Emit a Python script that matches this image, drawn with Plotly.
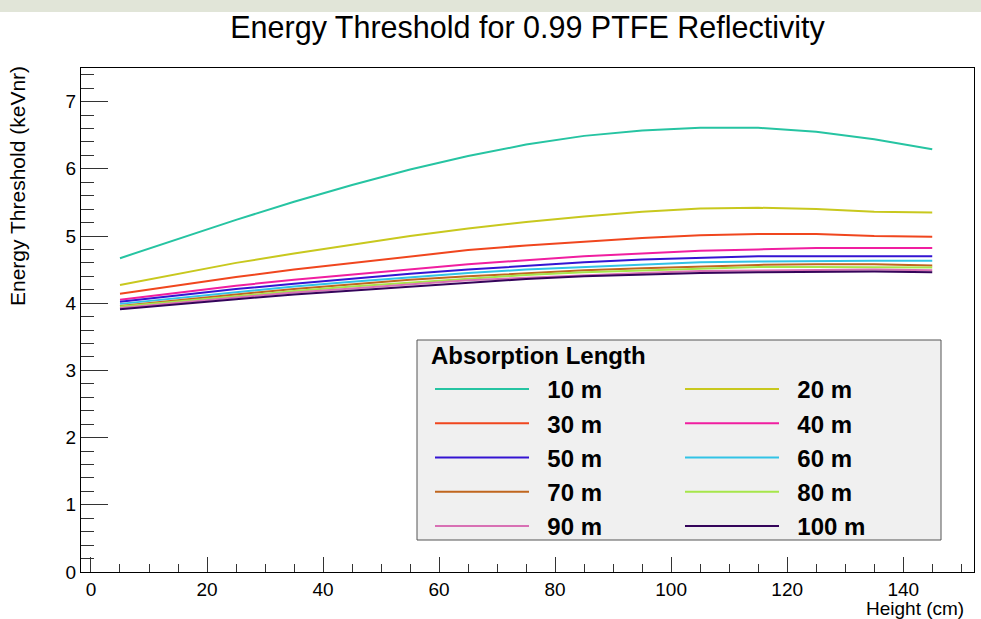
import plotly.graph_objects as go

heights = [5, 15, 25, 35, 45, 55, 65, 75, 85, 95, 105, 115, 125, 135, 145]

series_names = ["10 m", "20 m", "30 m", "40 m", "50 m", "60 m", "70 m", "80 m", "90 m", "100 m"]

thr_10m = [4.67, 4.96, 5.24, 5.51, 5.76, 5.99, 6.19, 6.36, 6.49, 6.57, 6.61, 6.61, 6.55, 6.44, 6.29]
thr_20m = [4.27, 4.44, 4.60, 4.74, 4.87, 5.00, 5.11, 5.21, 5.29, 5.36, 5.41, 5.42, 5.40, 5.36, 5.35]
thr_30m = [4.14, 4.27, 4.39, 4.50, 4.60, 4.70, 4.79, 4.86, 4.92, 4.97, 5.01, 5.03, 5.03, 5.00, 4.99]
thr_40m = [4.05, 4.16, 4.26, 4.35, 4.43, 4.51, 4.58, 4.64, 4.70, 4.74, 4.78, 4.80, 4.82, 4.82, 4.82]
thr_50m = [4.02, 4.12, 4.21, 4.29, 4.37, 4.44, 4.50, 4.56, 4.61, 4.65, 4.68, 4.70, 4.70, 4.70, 4.70]
thr_60m = [3.99, 4.08, 4.17, 4.25, 4.32, 4.39, 4.45, 4.50, 4.54, 4.58, 4.61, 4.62, 4.63, 4.63, 4.63]
thr_70m = [3.96, 4.05, 4.13, 4.21, 4.28, 4.35, 4.40, 4.45, 4.49, 4.52, 4.55, 4.57, 4.58, 4.58, 4.56]
thr_80m = [3.95, 4.03, 4.11, 4.18, 4.25, 4.31, 4.37, 4.42, 4.46, 4.49, 4.52, 4.54, 4.54, 4.54, 4.53]
thr_90m = [3.93, 4.01, 4.09, 4.16, 4.22, 4.28, 4.34, 4.38, 4.42, 4.45, 4.48, 4.49, 4.50, 4.50, 4.49]
thr_100m = [3.91, 3.99, 4.06, 4.13, 4.19, 4.25, 4.31, 4.36, 4.40, 4.43, 4.45, 4.46, 4.47, 4.47, 4.46]

all_series = [thr_10m, thr_20m, thr_30m, thr_40m, thr_50m,
              thr_60m, thr_70m, thr_80m, thr_90m, thr_100m]

colors = ["#26c4a2", "#c8c81e", "#f0461e", "#f01ea0", "#3414d2",
          "#32c3e6", "#c0661e", "#a6e64a", "#d870b4", "#34045a"]

W, H = 981, 619
L, R, T, B = 81, 7, 68, 47
PW, PH = W - L - R, H - T - B


def px_x(p):
    return (p - L) / PW


def px_y(p):
    return (H - B - p) / PH


FONT = "Liberation Sans, Arial, sans-serif"
NB = "\u00a0\u00a0"

fig = go.Figure()
for i, (name, ys) in enumerate(zip(series_names, all_series)):
    fig.add_trace(go.Scatter(
        x=heights, y=ys, mode="lines", name=NB + name,
        line=dict(color=colors[i], width=2),
        legend="legend" if i % 2 == 0 else "legend2",
    ))

axis_font = dict(family=FONT, size=19, color="#000")
leg_font = dict(family=FONT, size=24, color="#000", weight="bold")

fig.update_layout(
    width=W, height=H,
    margin=dict(l=L, r=R, t=T, b=B),
    paper_bgcolor="white", plot_bgcolor="white",
    title=dict(text="Energy Threshold for 0.99 PTFE Reflectivity",
               x=0.5, xref="paper", y=1 - 27 / H, yanchor="middle", xanchor="center",
               font=dict(family=FONT, size=30.5, color="#000")),
    xaxis=dict(range=[-1.72, 152.2], tickmode="linear", tick0=0, dtick=20,
               ticks="inside", ticklen=15, tickcolor="#333", tickwidth=1,
               minor=dict(ticks="inside", ticklen=8, dtick=5, tickcolor="#333"),
               showline=True, linecolor="#000", linewidth=1, mirror=True,
               showgrid=False, zeroline=False, tickfont=axis_font),
    yaxis=dict(range=[0, 7.5], tickmode="linear", tick0=0, dtick=1,
               ticks="inside", ticklen=27, tickcolor="#333", tickwidth=1,
               minor=dict(ticks="inside", ticklen=13, dtick=0.2, tickcolor="#333"),
               showline=True, linecolor="#000", linewidth=1, mirror=True,
               showgrid=False, zeroline=False, tickfont=axis_font),
    legend=dict(x=px_x(430), y=px_y(367), xanchor="left", yanchor="top",
                bgcolor="rgba(0,0,0,0)", borderwidth=0,
                font=leg_font, itemwidth=94, tracegroupgap=0),
    legend2=dict(x=px_x(680), y=px_y(367), xanchor="left", yanchor="top",
                 bgcolor="rgba(0,0,0,0)", borderwidth=0,
                 font=leg_font, itemwidth=94, tracegroupgap=0),
    showlegend=True,
    shapes=[
        dict(type="rect", xref="paper", yref="paper",
             x0=px_x(417), x1=px_x(941), y0=px_y(540), y1=px_y(340),
             fillcolor="#f0f0f0", line=dict(color="#555", width=1), layer="below"),
        dict(type="rect", xref="paper", yref="paper",
             x0=px_x(0), x1=px_x(W), y0=px_y(12), y1=px_y(0),
             fillcolor="#e1e5d8", line=dict(width=0), layer="below"),
    ],
    annotations=[
        dict(text="<b>Absorption Length</b>", xref="paper", yref="paper",
             x=px_x(429), y=px_y(355), xanchor="left", yanchor="middle",
             showarrow=False, font=dict(family=FONT, size=24, color="#000")),
        dict(text="Energy Threshold (keVnr)", xref="paper", yref="paper",
             x=px_x(18), y=px_y(186), xanchor="center", yanchor="middle",
             textangle=-90, showarrow=False, font=dict(family=FONT, size=21, color="#000")),
        dict(text="Height (cm)", xref="paper", yref="paper",
             x=px_x(966), y=px_y(608), xanchor="right", yanchor="middle",
             showarrow=False, font=axis_font),
    ],
)

fig.write_html("out.html")
